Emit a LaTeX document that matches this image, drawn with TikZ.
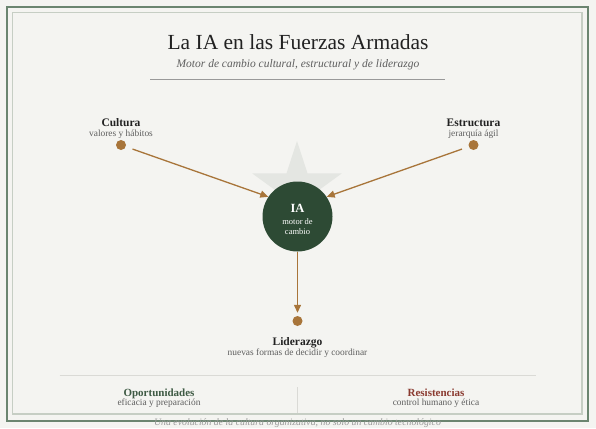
\documentclass[tikz,border=0pt]{standalone}
\usepackage{fontspec}
\setmainfont{Liberation Serif}
\usetikzlibrary{arrows.meta,shapes.geometric}
\definecolor{paper}{HTML}{F4F4F1}
\definecolor{frameout}{HTML}{6B8570}
\definecolor{framein}{HTML}{C6CEC4}
\definecolor{hubgreen}{HTML}{2D4A34}
\definecolor{bronze}{HTML}{A8753A}
\definecolor{starbg}{HTML}{E4E6E2}
\definecolor{inkdark}{HTML}{222222}
\definecolor{inkgray}{HTML}{5E5E5E}
\definecolor{okgreen}{HTML}{3E5A44}
\definecolor{riskred}{HTML}{8A3A30}
\definecolor{rulegray}{HTML}{DADAD6}
\begin{document}
\begin{tikzpicture}[x=1pt,y=-1pt,
  dot/.style={circle, fill=bronze, minimum size=10pt, inner sep=0pt},
  hub/.style={circle, fill=hubgreen, minimum size=70pt, inner sep=0pt},
  head/.style={text=inkdark, font=\fontsize{11.5}{13}\selectfont\bfseries, inner sep=0pt, text height=7.6pt, text depth=0pt},
  sub/.style={text=inkgray, font=\fontsize{9.4}{11}\selectfont, inner sep=0pt, text height=4.3pt, text depth=0pt},
  flow/.style={draw=bronze, line width=1.3pt, -{Triangle[length=8pt,width=7pt]}},
  rule/.style={draw=rulegray, line width=1pt}]
\useasboundingbox (0,0) rectangle (596,428);
\fill[paper] (0,0) rectangle (596,428);
\draw[framein, line width=1.6pt] (12.5,12.5) rectangle (582,414);
\draw[frameout, line width=2pt] (7,7) rectangle (588,421);

% title block
\node[text=inkdark, font=\fontsize{21.5}{24}\selectfont, inner sep=0pt, text height=14.3pt, text depth=0pt] (title) at (298,42.2) {La IA en las Fuerzas Armadas};
\node[text=inkgray, font=\fontsize{11.5}{13}\selectfont\itshape, inner sep=0pt, text height=5pt, text depth=0pt] (subtitle) at (298,65) {Motor de cambio cultural, estructural y de liderazgo};
\coordinate (tl) at (150,79);
\coordinate (tr) at (445,79);
\draw[draw=gray!80, line width=0.8pt] (tl) -- (tr);

% emblem and hub
\node[star, star points=5, star point ratio=2.618, minimum size=94pt, inner sep=0pt, fill=starbg] (emblem) at (297,188) {};
\node[hub] (ia) at (297.5,216.5) {};
\node[text=white, align=center, font=\fontsize{8.5}{10}\selectfont, inner sep=0pt] (iatext) at (297.5,219.5) {{\fontsize{12.5}{13}\selectfont\bfseries IA}\\[2pt]motor de\\cambio};

% three poles
\node[dot] (cultura) at (121,145) {};
\node[head] (culturat) at (121,122.7) {Cultura};
\node[sub] (culturas) at (121,134.7) {valores y hábitos};

\node[dot] (estructura) at (473.5,145) {};
\node[head] (estructurat) at (473.5,122.7) {Estructura};
\node[sub] (estructuras) at (473.5,134.7) {jerarquía ágil};

\node[dot] (liderazgo) at (297.5,321) {};
\node[head] (liderazgot) at (297.5,341.7) {Liderazgo};
\node[sub] (liderazgos) at (297.5,353.3) {nuevas formas de decidir y coordinar};

	\draw[flow, shorten <=7pt] (cultura) -- (ia.146);
	\draw[flow, shorten <=7pt] (estructura) -- (ia.34);
	\draw[flow, shorten >=3pt] (ia) -- (liderazgo);

% footer
\coordinate (dl) at (59.5,375.5);
\coordinate (dr) at (535.5,375.5);
\coordinate (vt) at (297.5,387);
\coordinate (vb) at (297.5,413);
\draw[rule] (dl) -- (dr);
\draw[rule] (vt) -- (vb);
\node[head] [text=okgreen, font=\fontsize{11}{13}\selectfont\bfseries] (oport) at (159,392.3) {Oportunidades};
\node[sub] (oports) at (159,403.3) {eficacia y preparación};
\node[head] [text=riskred, font=\fontsize{11}{13}\selectfont\bfseries] (resist) at (436,392.3) {Resistencias};
\node[sub] (resists) at (436,403.3) {control humano y ética};
\node[text=gray!80, font=\fontsize{9.8}{11}\selectfont\itshape, inner sep=0pt, text height=4.4pt, text depth=0pt] (note) at (297.5,423.6) {Una evolución de la cultura organizativa, no solo un cambio tecnológico};
\end{tikzpicture}
\end{document}
